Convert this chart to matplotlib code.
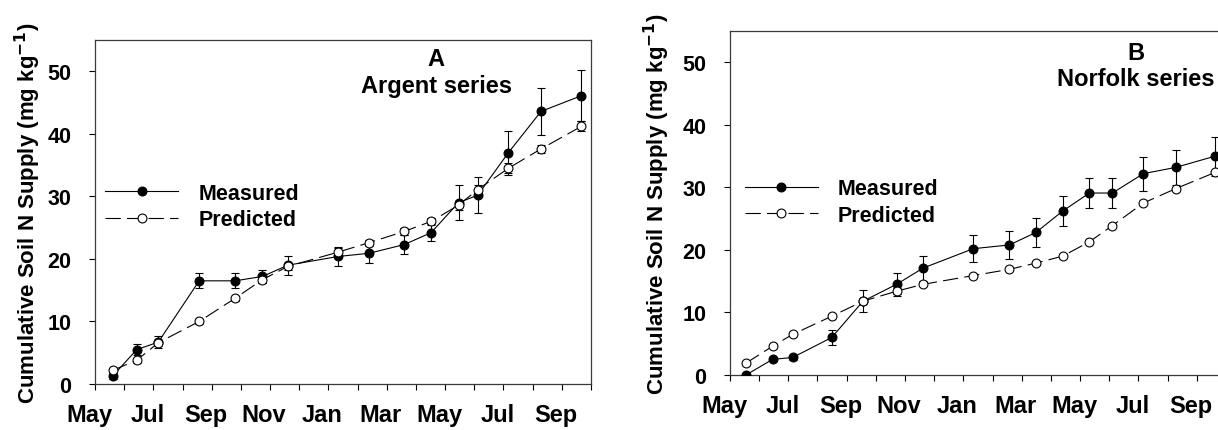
import matplotlib
matplotlib.use('Agg')
import matplotlib.pyplot as plt
import matplotlib.transforms as mtransforms
from matplotlib.ticker import MultipleLocator

plt.rcParams['font.family'] = ['Liberation Sans', 'DejaVu Sans']
plt.rcParams['font.weight'] = 'bold'
plt.rcParams['lines.scale_dashes'] = False

# sampling time in months after 1 May of the first year
months_a = [0.61, 1.43, 2.17, 3.57, 4.80, 5.74, 6.61, 8.34, 9.39, 10.60, 11.52, 12.46, 13.12, 14.17, 15.29, 16.67]
meas_a = [1.3, 5.5, 6.7, 16.5, 16.5, 17.2, 19.0, 20.4, 20.9, 22.3, 24.2, 29.0, 30.2, 37.0, 43.6, 46.1]
meas_a_err = [0.5, 0.9, 0.9, 1.2, 1.2, 1.1, 1.5, 1.5, 1.5, 1.5, 1.4, 2.8, 2.9, 3.5, 3.8, 4.1]
pred_a = [2.2, 3.8, 6.6, 10.0, 13.7, 16.7, 18.8, 21.1, 22.6, 24.4, 26.0, 28.6, 31.1, 34.5, 37.6, 41.2]
pred_a_err = [0.3, 0.4, 0.5, 0.4, 0.4, 0.5, 0.6, 0.7, 0.5, 0.5, 0.5, 0.7, 0.8, 0.8, 0.7, 0.8]

months_b = [0.55, 1.46, 2.15, 3.49, 4.56, 5.71, 6.62, 8.34, 9.58, 10.49, 11.40, 12.32, 13.11, 14.17, 15.28, 16.63]
meas_b = [0.0, 2.5, 2.8, 6.0, 11.8, 14.5, 17.1, 20.2, 20.8, 22.8, 26.2, 29.1, 29.1, 32.2, 33.2, 35.0]
meas_b_err = [0.2, 0.3, 0.4, 1.2, 1.8, 1.8, 2.0, 2.2, 2.2, 2.3, 2.4, 2.4, 2.4, 2.7, 2.8, 3.1]
pred_b = [1.9, 4.6, 6.5, 9.4, 11.8, 13.4, 14.5, 15.9, 16.9, 17.9, 19.0, 21.3, 23.9, 27.5, 29.8, 32.4]
pred_b_err = [0.2, 0.2, 0.2, 0.3, 0.3, 0.5, 0.3, 0.3, 0.3, 0.3, 0.3, 0.3, 0.3, 0.3, 0.3, 0.3]

month_ticks = [0, 2, 4, 6, 8, 10, 12, 14, 16]
month_labels = ['May', 'Jul', 'Sep', 'Nov', 'Jan', 'Mar', 'May', 'Jul', 'Sep']
ylabel = 'Cumulative Soil N Supply (mg kg$^{\\mathbf{-1}}$)'

fig = plt.figure(figsize=(12.18, 4.31), dpi=100)
ax_a = fig.add_axes([0.078, 0.1067, 0.4072, 0.798])
ax_b = fig.add_axes([0.5993, 0.1276, 0.4072, 0.798])


def draw_panel(ax, months, meas, meas_err, pred, pred_err, letter, series,
               text_x, text_y, leg_anchor, label_x):
    kw = dict(fmt='none', ecolor='black', elinewidth=0.8, capsize=2.6, capthick=0.8)
    ax.errorbar(months, meas, yerr=meas_err, zorder=2, **kw)
    ax.errorbar(months, pred, yerr=pred_err, zorder=4, **kw)
    ax.plot(months, meas, '-', color='black', lw=0.8, marker='o', ms=6.4,
            mfc='black', mec='black', mew=0.8, zorder=3, label='Measured')
    ax.plot(months, pred, color='black', lw=0.8, dashes=(11, 4.5), marker='o', ms=6.4,
            mfc='white', mec='black', mew=0.8, zorder=5, label='Predicted')

    ax.set_xlim(0, 17)
    ax.set_ylim(0, 55)
    ax.set_xticks(month_ticks)
    ax.set_xticklabels(month_labels, fontsize=17, fontweight='bold')
    ax.xaxis.set_minor_locator(MultipleLocator(1))
    ax.set_yticks([0, 10, 20, 30, 40, 50])
    ax.tick_params(axis='y', labelsize=15.5, direction='out', length=4, width=0.8, pad=13)
    ax.tick_params(axis='x', which='both', direction='out', length=4, width=0.8, pad=10)
    for lab in ax.get_xticklabels():
        lab.set_transform(lab.get_transform() +
                          mtransforms.ScaledTranslation(-6 / 100, 0, fig.dpi_scale_trans))
    for sp in ax.spines.values():
        sp.set_color('#3a3a3a')
        sp.set_linewidth(0.9)

    ax.set_ylabel(ylabel, fontsize=16, fontweight='bold')
    ax.yaxis.set_label_coords(label_x, 0.5)

    ax.text(text_x, text_y[0], letter, fontsize=17, fontweight='bold', ha='center', va='baseline')
    ax.text(text_x, text_y[1], series, fontsize=17, fontweight='bold', ha='center', va='baseline')

    ax.legend(loc='center left', bbox_to_anchor=leg_anchor, frameon=False,
              borderpad=0, borderaxespad=0, handlelength=3.4,
              handletextpad=0.93, labelspacing=0.26, numpoints=1,
              prop={'weight': 'bold', 'size': 15.5})


draw_panel(ax_a, months_a, meas_a, meas_a_err, pred_a, pred_a_err,
           'A', 'Argent series', 11.7, (51.0, 46.7), (0.02, 0.516), -0.105)
draw_panel(ax_b, months_b, meas_b, meas_b_err, pred_b, pred_b_err,
           'B', 'Norfolk series', 13.9, (50.6, 46.4), (0.03, 0.503), -0.117)

fig.savefig('out.png', dpi=100)
